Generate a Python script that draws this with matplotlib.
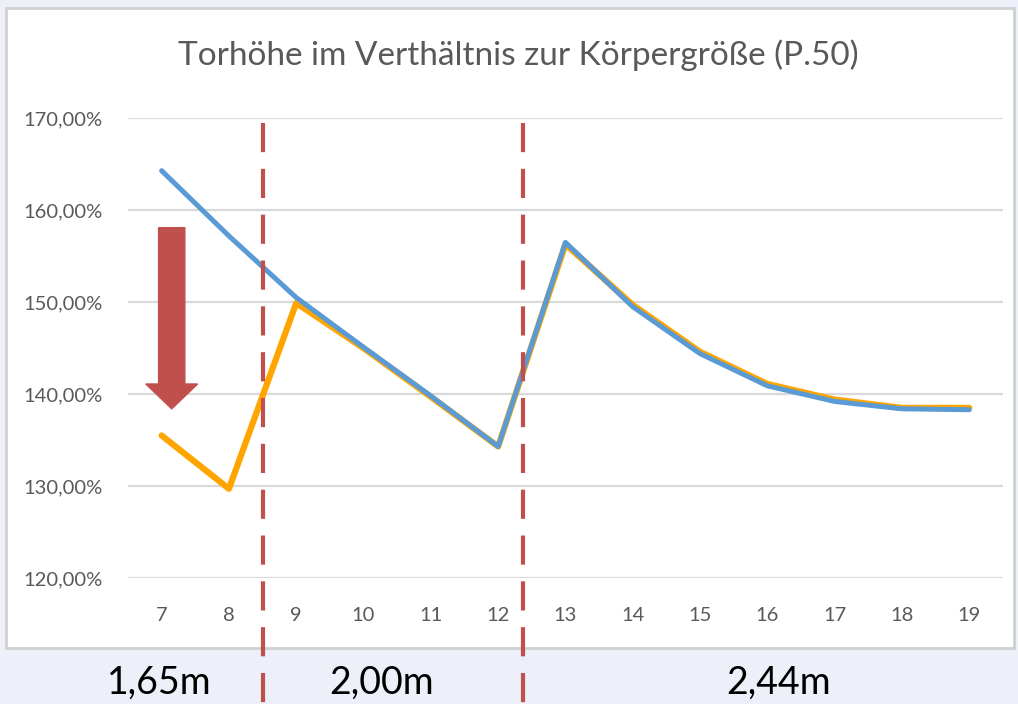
import matplotlib
matplotlib.use("Agg")
import matplotlib.pyplot as plt
from matplotlib.patches import Rectangle, FancyArrow

plt.rcParams['font.family'] = ['Lato', 'DejaVu Sans']

# data
ages = [7, 8, 9, 10, 11, 12, 13, 14, 15, 16, 17, 18, 19]
ratio_blue = [164.3, 157.2, 150.5, 145.1, 139.8, 134.3, 156.5, 149.5, 144.4, 140.9, 139.2, 138.4, 138.3]
ratio_orange = [135.5, 129.7, 149.9, 145.0, 139.7, 134.3, 156.3, 149.7, 144.6, 141.1, 139.4, 138.5, 138.5]
y_ticks = [120, 130, 140, 150, 160, 170]
y_labels = ["120,00%", "130,00%", "140,00%", "150,00%", "160,00%", "170,00%"]
goal_breaks = [8.5, 12.37]
goal_labels = ["1,65m", "2,00m", "2,44m"]
goal_label_x = [6.97, 10.27, 16.17]

fig = plt.figure(figsize=(10.18, 7.04), dpi=100)
fig.patch.set_facecolor("#edf0f8")

# white chart box
box = Rectangle((0.006, 0.08), 0.99, 0.908, transform=fig.transFigure,
                facecolor="white", edgecolor="#d0d0d0", linewidth=2, zorder=-10)
fig.patches.append(box)

ax = fig.add_axes([0.1257, 0.179, 0.8595, 0.653])
ax.set_facecolor("none")

ax.plot(ages, ratio_orange, color="#ffa500", lw=4.5, solid_capstyle="round", zorder=3)
ax.plot(ages, ratio_blue, color="#5b9bd5", lw=3.6, solid_capstyle="round", zorder=4)

ax.set_xlim(6.5, 19.5)
ax.set_ylim(120, 170)
ax.set_xticks(ages)
ax.set_xticklabels([str(a) for a in ages])
ax.set_yticks(y_ticks)
ax.set_yticklabels(y_labels)
ax.tick_params(length=0, colors="#595959", labelsize=14.5)
ax.tick_params(axis="x", pad=21)
ax.tick_params(axis="y", pad=18)
ax.grid(axis="y", color="#d9d9d9", lw=1.6)
ax.set_axisbelow(True)
for s in ax.spines.values():
    s.set_visible(False)

# red arrow
ax.add_patch(FancyArrow(7.15, 158.1, 0, -19.7, width=0.39, head_width=0.77,
                        head_length=2.7, length_includes_head=True,
                        color="#c0504d", zorder=5))

# goal size breaks
for xb in goal_breaks:
    ax.plot([xb, xb], [0.99, -0.3], transform=ax.get_xaxis_transform(),
            color="#c0504d", lw=3, ls=(0, (7, 4)), clip_on=False, zorder=6)

for lab, xl in zip(goal_labels, goal_label_x):
    ax.text(xl, -0.228, lab, transform=ax.get_xaxis_transform(), ha="center",
            va="center", fontsize=27, color="black")

fig.text(0.509, 0.922, "Torhöhe im Verthältnis zur Körpergröße (P.50)",
         ha="center", va="center", fontsize=24, color="#595959")

fig.savefig("out.png", dpi=100)
